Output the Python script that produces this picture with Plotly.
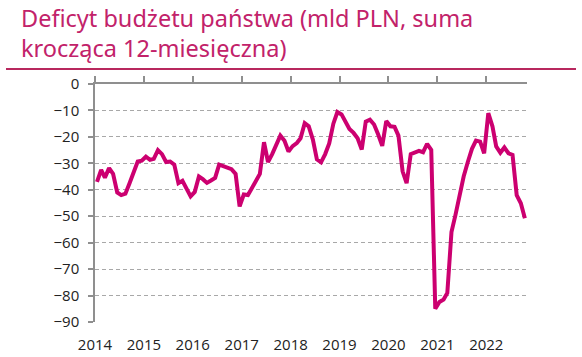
import pandas as pd
import plotly.graph_objects as go

# Monthly 12-month rolling state budget deficit, Jan 2014 - Oct 2022 (bn PLN)
months = pd.date_range("2014-01-01", periods=106, freq="MS") + pd.Timedelta(days=15)
deficit = [
    # 2014
    -37.0, -32.5, -35.4, -31.8, -34.0, -41.0, -42.0, -41.5, -37.5, -33.0, -29.3, -29.0,
    # 2015
    -27.5, -28.7, -28.3, -25.0, -26.5, -29.5, -29.3, -30.5, -37.5, -36.6, -40.0, -42.5,
    # 2016
    -40.8, -35.0, -36.0, -37.4, -36.5, -35.5, -30.5, -31.0, -31.5, -32.2, -34.0, -46.3,
    # 2017
    -41.8, -42.0, -39.5, -37.0, -34.0, -22.0, -29.5, -26.5, -23.0, -19.5, -21.5, -25.5,
    # 2018
    -23.5, -22.3, -20.5, -14.8, -16.0, -21.0, -28.5, -29.6, -26.5, -22.5, -15.0, -10.6,
    # 2019
    -11.5, -14.5, -17.0, -18.5, -20.5, -24.8, -14.2, -13.5, -15.3, -19.0, -23.4, -14.0,
    # 2020
    -16.0, -16.2, -19.5, -33.0, -37.5, -26.5, -25.8, -25.3, -25.8, -22.6, -24.9, -85.0,
    # 2021
    -82.4, -81.5, -79.0, -56.0, -49.5, -41.5, -35.0, -29.5, -24.5, -21.4, -21.8, -26.2,
    # 2022
    -11.0, -16.0, -23.6, -26.0, -24.0, -26.2, -26.8, -42.0, -45.1, -50.8,
]
year_ticks = [f"{y}-01-01" for y in range(2014, 2023)]
year_labels = [str(y) for y in range(2014, 2023)]
y_ticks = list(range(0, -100, -10))
title_lines = ["Deficyt budżetu państwa (mld PLN, suma", "krocząca 12-miesięczna)"]

title_color = "#C2226A"
line_color = "#CC0070"
axis_color = "#8F8F8F"
grid_color = "#A8A8A8"

fig = go.Figure()
fig.add_trace(go.Scatter(
    x=months, y=deficit, mode="lines",
    line=dict(color=line_color, width=4), showlegend=False, hoverinfo="x+y",
))
# invisible trace to activate top axis
fig.add_trace(go.Scatter(
    x=[months[0]], y=[deficit[0]], xaxis="x2", mode="markers",
    marker=dict(opacity=0), showlegend=False, hoverinfo="skip",
))

PW, PH = 432, 238
x_range = ["2014-01-01", "2022-11-01"]
fig.update_layout(
    width=582, height=357,
    margin=dict(l=95, r=55, t=84, b=35, autoexpand=False),
    paper_bgcolor="white", plot_bgcolor="white",
    xaxis=dict(
        type="date", range=x_range, tickvals=year_ticks, ticktext=year_labels,
        showgrid=False, showline=False, zeroline=False, automargin=False,
        ticks="outside", ticklen=9, tickcolor="rgba(0,0,0,0)",
        tickfont=dict(family="Open Sans", size=15, color="#222222"),
    ),
    xaxis2=dict(
        type="date", range=x_range, overlaying="x", side="top",
        tickvals=year_ticks, showticklabels=False, showgrid=False, automargin=False,
        showline=True, linecolor=axis_color, linewidth=1.5,
        ticks="outside", ticklen=6, tickcolor=axis_color, tickwidth=1.5,
    ),
    yaxis=dict(
        range=[-90, 0], tickvals=y_ticks, showline=True, linecolor=axis_color,
        linewidth=1.5, ticks="outside", ticklen=5, tickcolor=axis_color, tickwidth=1.5,
        showgrid=True, gridcolor=grid_color, griddash="4px,3px", gridwidth=1,
        zeroline=False, ticklabelstandoff=6, automargin=False,
        tickfont=dict(family="Open Sans", size=15, color="#222222"),
    ),
)

for i, (txt, ypix) in enumerate(zip(title_lines, [18, 47.5])):
    fig.add_annotation(
        text=txt, xref="paper", yref="paper",
        x=(19 - 95) / PW, y=1 + (84 - ypix) / PH,
        xanchor="left", yanchor="middle", align="left", showarrow=False,
        font=dict(family="Noto Sans", size=23.5, color=title_color),
    )
fig.add_shape(
    type="line", xref="paper", yref="paper",
    x0=(6 - 95) / PW, x1=1 + 49 / PW, y0=1 + 15 / PH, y1=1 + 15 / PH,
    line=dict(color="#B8285E", width=2),
)

fig.write_html("out.html")
